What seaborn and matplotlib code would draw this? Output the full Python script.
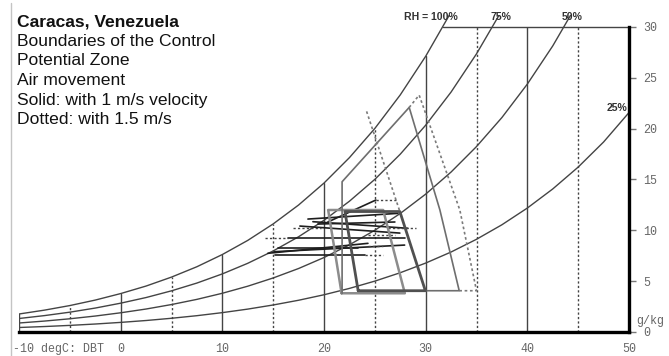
import numpy as np
import pandas as pd
import matplotlib
matplotlib.use("Agg")
import matplotlib.pyplot as plt
import seaborn as sns
from matplotlib.lines import Line2D
from matplotlib.patches import Rectangle

# ---------------- data ----------------
temps = [-10, -7.5, -5, -2.5, 0, 2.5, 5, 7.5, 10, 12.5, 15, 17.5, 20, 22.5,
         25, 27.5, 30, 32.5, 35, 37.5, 40, 42.5, 45, 47.5, 50]
sat_gkg = [1.77, 2.15, 2.60, 3.14, 3.78, 4.52, 5.40, 6.42, 7.62, 9.01, 10.63,
           12.49, 14.65, 17.15, 20.02, 23.32, 27.12, 31.47, 36.48, 42.19,
           48.77, 56.28, 64.88, 74.75, 86.34]
rh_levels = [100, 75, 50, 25]
rh_labels = ["RH = 100%", "75%", "50%", "25%"]
rh_label_t = [30.5, 37.4, 44.4, 48.85]
rh_label_w = [31.0, 31.0, 31.0, 22.0]

x_ticks = [0, 10, 20, 30, 40, 50]
y_ticks = [0, 5, 10, 15, 20, 25, 30]
grid_t = [-10, -5, 0, 5, 10, 15, 20, 25, 30, 35, 40, 45]
top_line_t = [31.7, 50]

# comfort zones
cz_cool_t = [21.73, 20.41, 25.82, 27.95, 21.73]
cz_cool_w = [3.81, 12.0, 12.0, 3.81, 3.81]
cz_warm_t = [23.36, 22.06, 27.46, 29.97, 23.36]
cz_warm_w = [4.06, 11.85, 11.85, 4.06, 4.06]
# air movement CPZ, 1 m/s (solid)
cpz1_t = [21.78, 21.78, 28.38, 31.40, 33.30, 29.97]
cpz1_w = [3.81, 14.78, 22.09, 12.0, 4.06, 4.06]
# air movement CPZ, 1.5 m/s (dotted)
cpz15_t = [28.38, 29.36, 33.36, 35.00, 33.30]
cpz15_w = [22.09, 23.30, 12.0, 4.06, 4.06]
set_ext_t = [24.19, 27.46]
set_ext_w = [21.7, 11.85]

# monthly climate lines
month_t0 = [18.42, 18.91, 19.40, 20.38, 16.45, 14.48, 15.14, 15.14, 15.47, 17.63]
month_w0 = [11.11, 10.85, 10.62, 10.82, 9.21, 7.74, 7.90, 7.57, 8.26, 10.42]
month_t1 = [27.27, 28.25, 26.97, 25.10, 27.93, 24.32, 27.93, 23.99, 23.33, 27.46]
month_w1 = [11.67, 10.20, 10.82, 12.98, 9.21, 8.72, 8.55, 7.57, 8.26, 9.73]
ext_t0 = [25.10, 16.91, 26.28, 14.16, 23.99, 24.32, 24.32]
ext_t1 = [27.07, 19.69, 29.06, 16.45, 25.79, 25.79, 26.95]
ext_w = [12.98, 10.20, 10.20, 9.21, 7.57, 8.46, 9.54]

title_lines = ["Caracas, Venezuela", "Boundaries of the Control",
               "Potential Zone", "Air movement",
               "Solid: with 1 m/s velocity", "Dotted: with 1.5 m/s"]

# ---------------- figure ----------------
sns.set_theme(style="white")
plt.rcParams["font.family"] = ["Liberation Sans", "DejaVu Sans"]
W_PX, H_PX = 669, 356
fig = plt.figure(figsize=(W_PX / 100, H_PX / 100), dpi=100)
ax = fig.add_axes([19 / W_PX, 1 - 332 / H_PX, 610 / W_PX, 305 / H_PX])
ax.set_facecolor("white")

GRID = "#444444"
dot = (0, (1.6, 1.6))

# RH curves
rows = []
for rh in rh_levels:
    for t, s in zip(temps, sat_gkg):
        rows.append({"T": t, "W": s * rh / 100.0, "RH": rh})
df = pd.DataFrame(rows)
n0 = len(ax.lines)
sns.lineplot(data=df, x="T", y="W", units="RH", estimator=None, color=GRID,
             lw=1.0, ax=ax, legend=False, sort=False)
for ln in ax.lines[n0:]:
    ln.set_clip_path(Rectangle((-10, -1), 60.5, 32.2, transform=ax.transData))

# vertical DBT lines
sat_map = dict(zip(temps, sat_gkg))
for t in grid_t:
    ls = "-" if t % 10 == 0 else dot
    ax.plot([t, t], [0, sat_map[t]], color=GRID, lw=1.0, ls=ls)
ax.plot(top_line_t, [30, 30], color=GRID, lw=1.0, clip_on=False)

# monthly lines
for a, b, c, d in zip(month_t0, month_w0, month_t1, month_w1):
    ax.plot([a, c], [b, d], color="#1e1e1e", lw=1.2)
for a, b, w in zip(ext_t0, ext_t1, ext_w):
    ax.plot([a, b], [w, w], color="#444", lw=1.0, ls=dot)

# zones
ax.plot(cz_cool_t, cz_cool_w, color="#8c8c8c", lw=1.8)
ax.plot(cpz1_t, cpz1_w, color="#6e6e6e", lw=1.2)
ax.plot(cpz15_t, cpz15_w, color="#7a7a7a", lw=1.2, ls=dot)
ax.plot(set_ext_t, set_ext_w, color="#7a7a7a", lw=1.2, ls=dot)
ax.plot(cz_warm_t, cz_warm_w, color="#505050", lw=2.0)

ax.set_xlim(-10, 50)
ax.set_ylim(0, 30)
for side in ["left", "top"]:
    ax.spines[side].set_visible(False)
for side in ["bottom", "right"]:
    ax.spines[side].set_visible(True)
    ax.spines[side].set_color("black")
    ax.spines[side].set_linewidth(2.4)

MONO = ["Liberation Mono", "DejaVu Sans Mono"]
ax.yaxis.tick_right()
ax.set_yticks(y_ticks)
ax.set_yticklabels([str(v) for v in y_ticks], family=MONO, fontsize=8.4, color="#666")
ax.tick_params(axis="y", direction="out", length=5, width=1, color="#777", pad=5)
ax.set_xticks(x_ticks)
ax.set_xticklabels([str(v) for v in x_ticks], family=MONO, fontsize=8.4, color="#666")
ax.tick_params(axis="x", length=0, pad=8)
ax.set_xlabel("")
ax.set_ylabel("")
ax.grid(False)

fig.text(13 / W_PX, 1 - 343 / H_PX, "-10 degC: DBT", family=MONO, fontsize=8.4,
         color="#666", ha="left", va="top")
ax.text(1.012, 1.05 / 30, "g/kg", transform=ax.transAxes, family=MONO,
        fontsize=8.4, color="#666", ha="left", va="center")

for lab, t, w in zip(rh_labels, rh_label_t, rh_label_w):
    ax.text(t, w, lab, ha="center", va="center", fontsize=7.6,
            fontweight="bold", color="#333", clip_on=False)

baselines = [26.3, 45.7, 65.3, 85.0, 104.5, 124.0]
for i, (txt, b) in enumerate(zip(title_lines, baselines)):
    fig.text(17 / W_PX, 1 - b / H_PX, txt, fontsize=12.6, color="#111",
             fontweight="bold" if i == 0 else "normal", ha="left", va="baseline")

fig.add_artist(Line2D([11 / W_PX, 11 / W_PX], [0, 1 - 3 / H_PX],
                      color="#c4c4c4", lw=1.0))

fig.savefig("out.png", dpi=100, facecolor="white")
